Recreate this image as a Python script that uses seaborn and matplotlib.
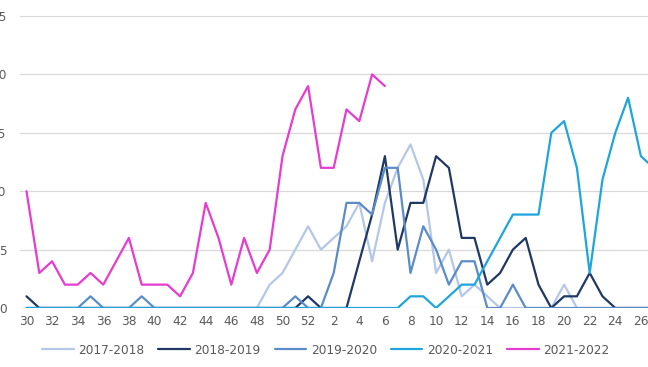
import numpy as np
import pandas as pd
import matplotlib
matplotlib.use("Agg")
import matplotlib.pyplot as plt
import seaborn as sns

# week numbers along the x axis (season runs from week 30 to week 29)
weeks = list(range(30, 53)) + list(range(1, 28))

s_2017_2018 = [0] * 19 + [2, 3, 5, 7, 5, 6, 7, 9, 4, 9, 12, 14, 11, 3, 5, 1, 2, 1,
                          0, 0, 0, 0, 0, 2, 0, 0, 0, 0, 0, 0, 0]
s_2018_2019 = [1] + [0] * 21 + [1, 0, 0, 0, 4, 8, 13, 5, 9, 9, 13, 12, 6, 6, 2, 3, 5, 6,
                                2, 0, 1, 1, 3, 1, 0, 0, 0, 0]
s_2019_2020 = [0, 0, 0, 0, 0, 1, 0, 0, 0, 1] + [0] * 11 + [1, 0, 0, 3, 9, 9, 8, 12, 12,
                                                         3, 7, 5, 2, 4, 4, 0, 0, 2,
                                                         0, 0, 0, 0, 0, 0, 0, 0, 0, 0, 0]
s_2020_2021 = [0] * 30 + [1, 1, 0, 1, 2, 2, 4, 6, 8, 8, 8, 15, 16, 12, 3, 11, 15, 18, 13, 12]
s_2021_2022 = [10, 3, 4, 2, 2, 3, 2, 4, 6, 2, 2, 2, 1, 3, 9, 6, 2, 6, 3, 5, 13, 17, 19,
               12, 12, 17, 16, 20, 19]

seasons = ["2017-2018", "2018-2019", "2019-2020", "2020-2021", "2021-2022"]
series = [s_2017_2018, s_2018_2019, s_2019_2020, s_2020_2021, s_2021_2022]
colors = ["#b4c7e7", "#203864", "#5b8cc8", "#1fa5dc", "#e63ccf"]

rows = []
for name, vals in zip(seasons, series):
    for i, v in enumerate(vals):
        rows.append({"pos": i, "value": v, "season": name})
df = pd.DataFrame(rows)

sns.set_theme(style="white")
plt.rcParams["font.family"] = ["DejaVu Sans"]

fig = plt.figure(figsize=(6.48, 3.67), dpi=100)
W, H = 648, 367
left, right, top, bottom = 20.1, 648, 12.5, 308
ax = fig.add_axes([left / W, 1 - bottom / H, (right - left) / W, (bottom - top) / H])

sns.lineplot(data=df, x="pos", y="value", hue="season", hue_order=seasons,
             palette=colors, linewidth=1.6, ax=ax, legend=False)

ax.set_xlim(-0.5, (right - left) / 12.8 - 0.5)
ax.set_ylim(0, 25.3)
ax.set_yticks([0, 5, 10, 15, 20, 25])
ax.set_xticks(range(0, len(weeks), 2))
ax.set_xticklabels([str(w) for w in weeks[::2]])
ax.yaxis.grid(True, color="#d9d9d9", linewidth=0.9)
ax.xaxis.grid(False)
for s in ax.spines.values():
    s.set_visible(False)
ax.tick_params(axis="both", length=0, labelsize=8.7, colors="#595959")
ax.tick_params(axis="y", pad=9.8)
ax.tick_params(axis="x", pad=5)
ax.set_xlabel("")
ax.set_ylabel("")

handles = [plt.Line2D([0], [0], color=c, linewidth=1.6) for c in colors]
leg = fig.legend(handles, seasons, loc="center", bbox_to_anchor=(0.503, 1 - 350 / H),
                 ncol=5, frameon=False, fontsize=8.7, handlelength=2.6,
                 handletextpad=0.4, columnspacing=1.15)
for t in leg.get_texts():
    t.set_color("#595959")

fig.savefig("out.png", dpi=100)
